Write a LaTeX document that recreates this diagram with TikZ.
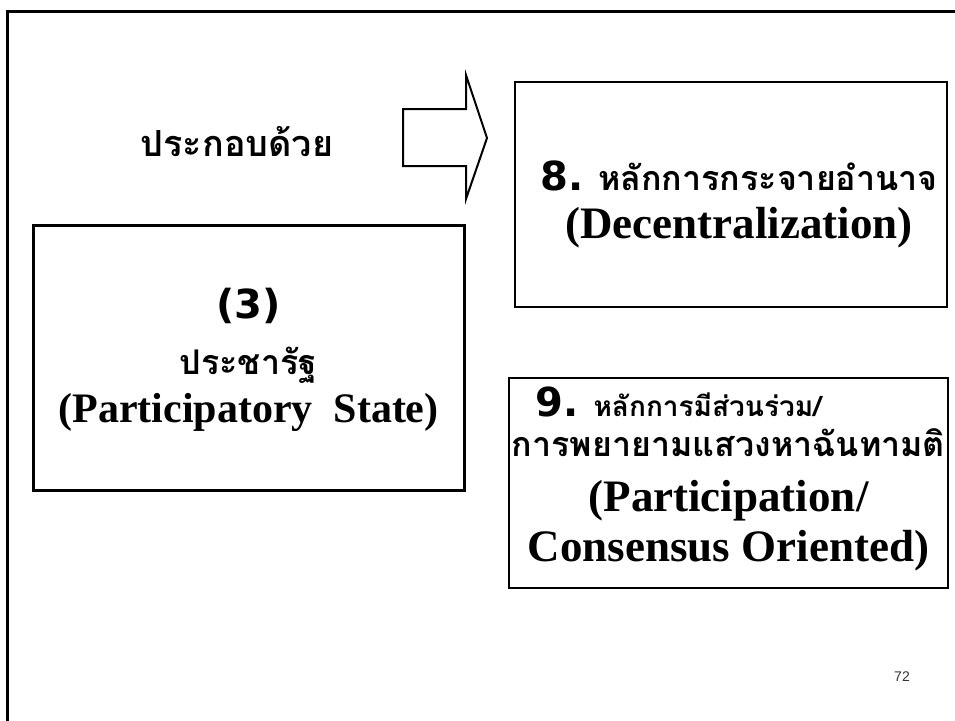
\documentclass[tikz,border=0pt]{standalone}
\usepackage{fontspec}
\setmainfont{Liberation Serif}
\newfontfamily\thaifont[Script=Thai]{Loma}
\newfontfamily\numfont{DejaVu Sans}
\newfontfamily\pagefont{Liberation Sans}
\newcommand\thaib[2][34]{{\thaifont\bfseries\fontsize{#1}{48}\selectfont #2}}
\newcommand\numb[1]{{\numfont\bfseries\fontsize{40}{48}\selectfont #1}}

\begin{document}
\begin{tikzpicture}[
    x=1pt, y=-1pt,
    frame/.style={draw, line width=3pt},
    thickbox/.style={rectangle, draw, line width=3pt},
    thinbox/.style={rectangle, draw, line width=1.5pt},
    boxtext/.style={align=center, inner sep=0pt, font=\bfseries\fontsize{#1}{48}\selectfont},
    bigarrow/.style={draw, line width=2pt, line join=miter},
    caption/.style={font=\thaifont\bfseries\fontsize{36}{40}\selectfont}
]
\useasboundingbox (0,0) rectangle (955,720);

\draw[frame] (960,11) -- (7,11) -- (7,725);

\node (Label) [caption] at (237,142) {ประกอบด้วย};

\draw[bigarrow] (403,109) -- (466,109) -- (466,75) -- (487,138)
    -- (466,199) -- (466,166) -- (403,166) -- cycle;

\node (Box03) [thickbox, minimum width=431, minimum height=265] at (248.5,357.5) {};
\node (Text03) [boxtext=42] at ([yshift=-2pt]Box03.center)
    {\numb{(3)}\\[8pt] \thaib{ประชารัฐ}\\[0pt] (Participatory\ \ State)};

\node (Box08) [thinbox, minimum width=432, minimum height=225] at (731,194.5) {};
\node (Text08) [boxtext=45] at ([xshift=8pt, yshift=-10pt]Box08.center)
    {\numb{8.} \thaib{หลักการกระจายอำนาจ}\\ (Decentralization)};

\node (Box09) [thinbox, minimum width=439, minimum height=210] at (728.5,483) {};
\node (Text09) [boxtext=45] at ([yshift=4pt]Box09.center)
    {\numb{9.} \thaib[28]{หลักการมีส่วนร่วม/}\hspace*{100pt}\\[-8pt]
     \thaib{การพยายามแสวงหาฉันทามติ}\\[7pt]
     (Participation/\hspace*{20pt}\\[2pt] Consensus Oriented)};

\node (PageNum) [font=\pagefont\fontsize{14}{16}\selectfont, text=black!80] at (902,677) {72};

\end{tikzpicture}
\end{document}
